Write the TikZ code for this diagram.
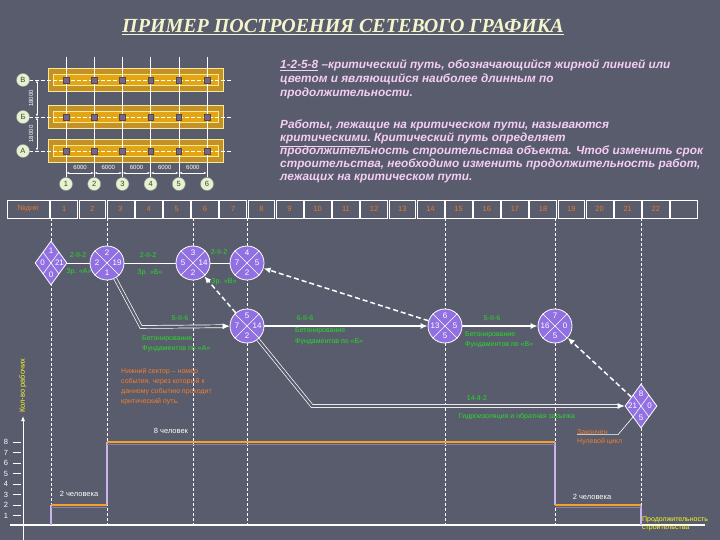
\documentclass[tikz,border=0pt]{standalone}
\usepackage{fontspec}
\setmainfont{Liberation Sans}
\setsansfont{Liberation Sans}
\newfontfamily\serifbi{Liberation Serif}
\usetikzlibrary{arrows.meta,shapes.geometric,calc}
\definecolor{bg}{RGB}{88,92,108}
\definecolor{evp}{RGB}{145,112,225}
\definecolor{labgreen}{RGB}{40,220,40}
\definecolor{hdrorange}{RGB}{235,120,40}
\definecolor{annor}{RGB}{245,125,45}
\definecolor{pinktxt}{RGB}{245,205,245}
\definecolor{titlec}{RGB}{245,245,205}
\definecolor{yel}{RGB}{250,250,40}
\definecolor{stripout}{RGB}{195,145,40}
\definecolor{stripin}{RGB}{228,165,20}
\definecolor{stripedge}{RGB}{245,235,140}
\definecolor{sq}{RGB}{120,100,140}
\definecolor{circfill}{RGB}{228,242,205}
\definecolor{workorange}{RGB}{245,160,40}
\definecolor{lav}{RGB}{200,180,235}
\tikzset{
  ev/.style={circle, draw=white, line width=0.8pt, fill=evp, minimum size=34pt, inner sep=0pt},
  evdia/.style={diamond, draw=white, line width=0.8pt, fill=evp, minimum width=32pt, minimum height=44pt, inner sep=0pt},
  num/.style={text=white, font=\fontsize{8}{9}\selectfont, inner sep=0pt},
  work/.style={draw=white, line width=1pt},
  workarr/.style={draw=white, line width=1.6pt, -{Latex[length=7pt,width=6pt]}},
  crit/.style={draw=white, line width=0.7pt, double=bg, double distance=2.2pt},
  dum/.style={draw=white, line width=1.5pt, dash pattern=on 5pt off 3pt, -{Latex[length=7pt,width=6pt]}},
  vgrid/.style={draw=white, line width=0.6pt, dash pattern=on 3pt off 2pt},
  glab/.style={text=labgreen, font=\fontsize{7}{8}\selectfont, inner sep=0pt},
  axc/.style={circle, fill=circfill, draw=black!40, line width=0.4pt, minimum size=13pt, inner sep=0pt, text=black!75, font=\fontsize{7.5}{8}\selectfont},
  dimlab/.style={text=white, font=\fontsize{6}{7}\selectfont, inner sep=0pt},
  hdrtxt/.style={text=hdrorange, font=\fontsize{7.5}{8}\selectfont, inner sep=0pt},
  wlab/.style={text=white, font=\fontsize{7.5}{8}\selectfont, inner sep=0pt},
  ptxt/.style={text=pinktxt, font=\bfseries\itshape\fontsize{11.8}{13}\selectfont, inner sep=0pt, anchor=base west},
}
\newcommand\evcirc[7]{%
  \node[ev] (#1) at (#2,#3) {};
  \draw[white,line width=0.6pt] (#1.north west) -- (#1.south east) (#1.north east) -- (#1.south west);
  \node[num] (#1t) at (#2,#3-10) {#4};
  \node[num] (#1l) at (#2-10,#3) {#5};
  \node[num] (#1r) at (#2+10,#3) {#6};
  \node[num] (#1b) at (#2,#3+10) {#7};
}
\newcommand\evdiam[7]{%
  \node[evdia] (#1) at (#2,#3) {};
  \draw[white,line width=0.6pt] (#2-8,#3-11) -- (#2+8,#3+11) (#2+8,#3-11) -- (#2-8,#3+11);
  \node[num] (#1t) at (#2,#3-12) {#4};
  \node[num] (#1l) at (#2-8.5,#3) {#5};
  \node[num] (#1r) at (#2+8.5,#3) {#6};
  \node[num] (#1b) at (#2,#3+12) {#7};
}
\begin{document}
\begin{tikzpicture}[x=1pt,y=-1pt]
\fill[bg] (0,0) rectangle (720,540);
\useasboundingbox (0,0) rectangle (720,540);

% title
\node[text=titlec, font=\serifbi\bfseries\itshape\fontsize{20}{23}\selectfont, inner sep=0pt] (title) at (343,27) {\underline{ПРИМЕР ПОСТРОЕНИЯ СЕТЕВОГО ГРАФИКА}};

% plan
\foreach \y in {80,117,151} {
  \filldraw[fill=stripout, draw=stripedge, line width=0.8pt] (48,\y-12) rectangle (223,\y+11);
  \filldraw[fill=stripin, draw=stripedge, line width=0.7pt] (53,\y-5.5) rectangle (218,\y+5.5);
  \draw[white, line width=0.5pt, dash pattern=on 4pt off 2pt] (29,\y) -- (232,\y);
}
\foreach \i in {0,...,5} \draw[white, line width=0.5pt] ({66+28.2*\i},57) -- ({66+28.2*\i},177);
\foreach \i in {0,...,5} \foreach \y in {80,117,151}
  \filldraw[fill=sq, draw=black!70, line width=0.5pt] ({66+28.2*\i-2.8},\y-2.8) rectangle ({66+28.2*\i+2.8},\y+2.8);
\node[axc] (axV) at (23,80) {В};
\node[axc] (axB) at (23,117) {Б};
\node[axc] (axA) at (23,151) {А};
\foreach \i [count=\c] in {0,...,5} \node[axc] (col\c) at ({66+28.2*\i},184) {\c};
\draw[white, line width=0.5pt, {Latex[length=3pt,width=2pt]}-{Latex[length=3pt,width=2pt]}] (37,80) -- (37,117);
\draw[white, line width=0.5pt, {Latex[length=3pt,width=2pt]}-{Latex[length=3pt,width=2pt]}] (37,117) -- (37,151);
\node[dimlab, rotate=90] (d18a) at (31,98.5) {18000};
\node[dimlab, rotate=90] (d18b) at (31,134) {18000};
\foreach \i in {0,...,4} {
  \draw[white, line width=0.5pt, {Latex[length=3pt,width=2pt]}-{Latex[length=3pt,width=2pt]}] ({66+28.2*\i},173) -- ({66+28.2*(\i+1)},173);
  \node[dimlab] (d6k\i) at ({80.1+28.2*\i},167) {6000};
}

% top-right text
\node[ptxt] (p1) at (280,69) {\underline{1-2-5-8} –критический путь, обозначающийся жирной линией или};
\node[ptxt] (p2) at (280,83) {цветом и являющийся наиболее длинным по};
\node[ptxt] (p3) at (280,97) {продолжительности.};
\node[ptxt] (p4) at (280,129) {Работы, лежащие на критическом пути, называются};
\node[ptxt] (p5) at (280,142) {\underline{критическими.} Критический путь определяет};
\node[ptxt] (p6) at (280,155) {продолжительность строительства объекта. Чтоб изменить срок};
\node[ptxt] (p7) at (280,168) {строительства, необходимо изменить продолжительность работ,};
\node[ptxt] (p8) at (280,181) {лежащих на критическом пути.};

% header
\draw[white, line width=0.6pt] (7,200) rectangle (49.3,218);
\node[hdrtxt] (hd0) at (28,209) {№дня};
\foreach \k in {1,...,22} {
  \draw[white, line width=0.6pt] ({50+28.18*(\k-1)+0.7},200) rectangle ({50+28.18*\k-0.7},218);
  \node[hdrtxt] (hd\k) at ({50+28.18*(\k-0.5)},209) {\k};
}
\draw[white, line width=0.6pt] (670.7,200) rectangle (697,218);

% vertical grid
\foreach \x in {51,107,193,247,445,555,641} \draw[vgrid] (\x,218) -- (\x,525);

% events
\evdiam{n1}{51}{263}{1}{0}{21}{0}
\evcirc{n2}{107}{263}{2}{2}{19}{1}
\evcirc{n3}{193}{263}{3}{5}{14}{2}
\evcirc{n4}{247}{263}{4}{7}{5}{2}
\evcirc{n5}{247}{326}{5}{7}{14}{2}
\evcirc{n6}{445}{326}{6}{13}{5}{5}
\evcirc{n7}{555}{326}{7}{16}{0}{5}
\evdiam{n8}{641}{406}{8}{21}{0}{5}

% connectors
\draw[work] (n1) -- (n2);
\draw[work] (n2) -- (n3);
\draw[work] (n3) -- (n4);
\coordinate (c25) at (141,327);
\draw[crit, -{Latex[length=7pt,width=6pt]}] (n2) -- (c25) -- (n5);
\coordinate (c58) at (312,406);
\draw[crit, -{Latex[length=7pt,width=6pt]}] (n5) -- (c58) -- (n8);
\draw[workarr] (n5) -- (n6);
\draw[workarr] (n6) -- (n7);
\draw[dum] (n5) -- (n3);
\draw[dum] (n6) -- (n4);
\draw[dum] (n8) -- (n7);

% work labels
\node[glab] (l12a) at (78,255) {2-II-2};
\node[glab] (l12b) at (79,272) {Зр. «А»};
\node[glab] (l23a) at (148,255) {2-II-2};
\node[glab] (l23b) at (150,273) {Зр. «Б»};
\node[glab] (l34a) at (219,252) {2-II-2};
\node[glab] (l34b) at (224,282) {Зр. «В»};
\node[glab] (l25a) at (180,318) {5-II-6};
\node[glab, anchor=west] (l25b) at (142,339) {Бетонирование};
\node[glab, anchor=west] (l25c) at (142,349) {Фундаментов по «А»};
\node[glab] (l56a) at (305,318) {6-II-6};
\node[glab, anchor=west] (l56b) at (295,331) {Бетонирование};
\node[glab, anchor=west] (l56c) at (295,342) {Фундаментов по «Б»};
\node[glab] (l67a) at (492,318) {5-II-6};
\node[glab, anchor=west] (l67b) at (465,335) {Бетонирование};
\node[glab, anchor=west] (l67c) at (465,345) {Фундаментов по «В»};
\node[glab] (l58a) at (477,398) {14-II-2};
\node[glab] (l58b) at (517,417) {Гидроизоляция и обратная засыпка};

% annotations
\node[text=annor, font=\fontsize{7}{10}\selectfont, align=left, anchor=north west, inner sep=0pt] (ann) at (121,368)
  {Нижний сектор – номер\\события, через который к\\данному событию проходит\\критический путь.};
\node[text=annor, font=\fontsize{7}{8}\selectfont, anchor=west, inner sep=0pt] (zak1) at (577,432) {Закончен};
\node[text=annor, font=\fontsize{7}{8}\selectfont, anchor=west, inner sep=0pt] (zak2) at (577,442) {Нулевой цикл};
\draw[white, line width=0.6pt] (zak1.south west) -- ++(41,0) -- (n8.south west);

% workers chart
\draw[white, line width=1.2pt] (10,525) -- (705,525);
\draw[white, line width=0.8pt, -{Latex[length=5pt,width=4pt]}] (23,540) -- (23,416);
\foreach \n in {1,...,8} {
  \draw[white, line width=0.6pt] (13,{526-10.5*\n}) -- (21,{526-10.5*\n});
  \node[wlab] (yn\n) at (6,{526-10.5*\n}) {\n};
}
\node[text=yel, font=\fontsize{7.5}{8}\selectfont, rotate=90, anchor=west, inner sep=0pt] (kol) at (23,413) {Кол-во рабочих};
\draw[lav, line width=1.3pt] (51,525) -- (51,505);
\draw[lav, line width=1.3pt] (107,505) -- (107,442);
\draw[lav, line width=1.3pt] (555,442) -- (555,505);
\draw[lav, line width=1.3pt] (641,505) -- (641,525);
\draw[lav!70!black, line width=0.6pt] (51,507) -- (107,507) (107,444) -- (555,444) (555,507) -- (641,507);
\draw[workorange, line width=2pt] (51,505) -- (107,505) (107,442) -- (555,442) (555,505) -- (641,505);
\node[wlab] (w1) at (79,494) {2 человека};
\node[wlab] (w2) at (171,431) {8 человек};
\node[wlab] (w3) at (592,497) {2 человека};
\node[text=yel, font=\fontsize{7}{8.5}\selectfont, align=left, anchor=north west, inner sep=0pt] (dur) at (642,516) {Продолжительность\\строительства};
\end{tikzpicture}
\end{document}
